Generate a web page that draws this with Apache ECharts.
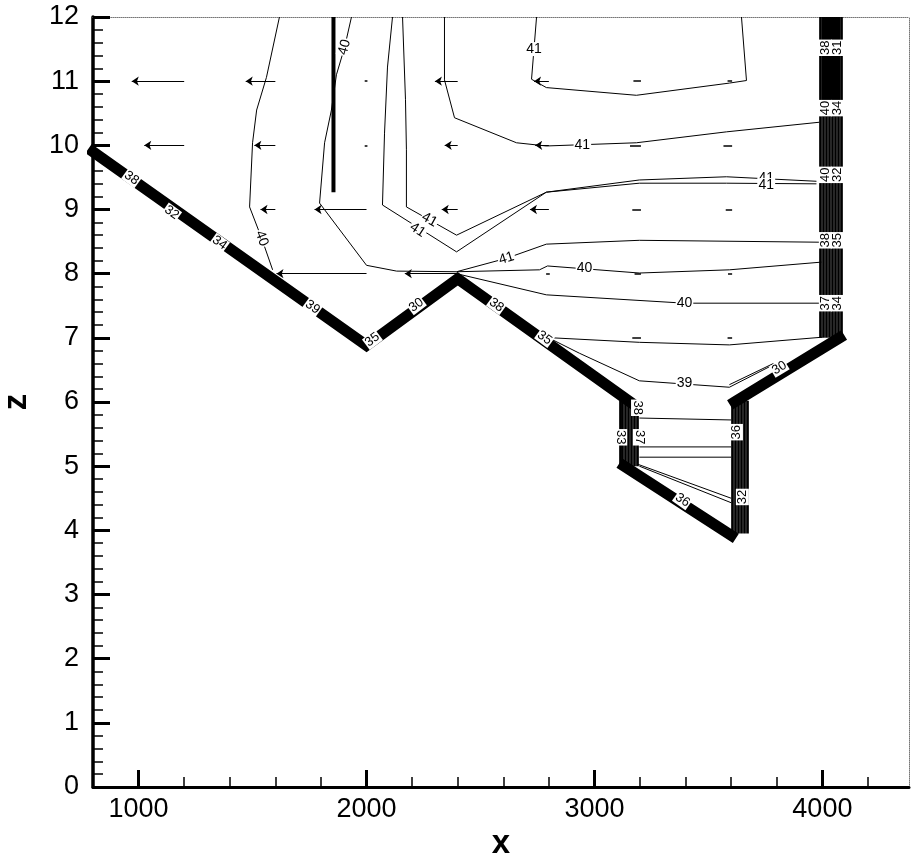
<!DOCTYPE html>
<html><head><meta charset="utf-8">
<script src="https://cdn.jsdelivr.net/npm/echarts@6/dist/echarts.min.js"></script>
<style>html,body{margin:0;padding:0;background:#fff}#c{width:915px;height:855px}</style>
</head><body><div id="c"></div>
<script>
// ---------- axes ----------
const X_MIN = 800, X_MAX = 4380, Z_MIN = 0, Z_MAX = 12;
const xMajorTicks = [1000, 2000, 3000, 4000];
const xMinorTicks = [1200, 1400, 1600, 1800, 2200, 2400, 2600, 2800, 3200, 3400, 3600, 3800, 4200];

// ---------- bottom boundary (thick lines) ----------
const boundaryLeft = [[800, 9.9], [2000, 6.88], [2400, 7.92], [3165, 5.98]];
const boundaryPitBottom = [[3130, 5.0], [3600, 3.92]];
const boundaryRightSlope = [[3615, 6.0], [4075, 7.0]];

// ---------- dense contour bands at walls (vertical lines) ----------
const pitLeftWallX = [3112, 3124, 3136, 3150, 3162, 3175, 3188];
const pitLeftWallZ = [5.0, 6.02];
const pitRightWallX = [3605, 3618, 3631, 3645, 3658, 3671];
const pitRightWallZ = [3.95, 6.02];
const eastWallX = [3991, 4004, 4017, 4030, 4043, 4057, 4070, 4083];
const eastWallZ = [7.0, 12];
const eastWallDenseZ = [10.45, 12];
const band1855 = [[1855, 12], [1855, 9.27]];

// ---------- contour lines ----------
const contour40West = [[1618, 12], [1561, 11.06], [1518, 10.55], [1500, 10.04], [1487, 9.04], [1539, 8.56], [1588, 8.06]];
const contour40Upper = [[1934, 12], [1904, 11.53], [1868, 11.10], [1846, 10.55], [1816, 10.04], [1794, 9.1], [2000, 8.13], [2132, 8.04], [2395, 8.03], [2759, 8.06], [2794, 8.12], [3197, 8.01], [3592, 8.06], [3996, 8.18]];
const contour41Top = [[2746, 12], [2724, 11.03], [2789, 10.90], [3184, 10.78], [3592, 10.97], [3667, 11.01], [3645, 12]];
const contour41Mid = [[2342, 12], [2342, 11.02], [2386, 10.43], [2658, 10.04], [2789, 9.99], [3184, 10.04], [3579, 10.21], [3987, 10.36]];
const contour41InnerV = [[2158, 12], [2171, 10.71], [2175, 9.93], [2175, 9.04], [2395, 8.60], [2789, 9.27], [3197, 9.46], [3579, 9.51], [3974, 9.44]];
const contour41OuterV = [[2114, 12], [2092, 11.22], [2079, 10.19], [2070, 9.07], [2395, 8.34], [2789, 9.27], [3197, 9.41], [3579, 9.41], [3974, 9.40]];
const contour41Lower = [[2395, 8.03], [2614, 8.24], [2789, 8.46], [3197, 8.52], [3996, 8.49]];
const contour40Lower = [[2395, 8.0], [2789, 7.67], [3395, 7.54], [3996, 7.54]];
const contour39Upper = [[2816, 7.0], [3197, 6.93], [3592, 6.89], [4000, 7.01]];
const contour39 = [[2816, 6.97], [2934, 6.76], [3197, 6.33], [3592, 6.23], [3768, 6.55]];
const contour39b = [[3592, 6.27], [3785, 6.6]];
const pitContourA = [[3197, 5.75], [3600, 5.72]];
const pitContourB = [[3197, 5.30], [3600, 5.30]];
const pitContourC = [[3197, 5.14], [3600, 5.14]];
const pitContourD = [[3197, 5.0], [3600, 4.43]];
const pitContourE = [[3190, 5.03], [3600, 4.50]];

// ---------- labels: [x, z, text, angle] ----------
const contourLabels = [
  [1540, 8.55, '40', -70], [1904, 11.53, '40', 75], [2956, 8.08, '40', 0], [3395, 7.54, '40', 0],
  [2735, 11.5, '41', 0], [2947, 10.0, '41', 0], [2276, 8.84, '41', -29], [2224, 8.68, '41', -33],
  [3754, 9.49, '41', 0], [3754, 9.38, '41', 0], [2614, 8.24, '41', 17], [3395, 6.30, '39', 0]
];
const boundaryLabels = [
  [969, 9.49, '38', -36], [1145, 8.95, '32', -36], [1355, 8.48, '34', -36], [1763, 7.48, '39', -36],
  [2026, 6.97, '35', 37], [2219, 7.51, '30', 37], [2570, 7.51, '38', -36], [2781, 7.0, '35', -36],
  [3386, 4.47, '36', -35], [3811, 6.53, '30', 31],
  [3189, 5.91, '38', -90], [3197, 5.45, '37', -90], [3115, 5.45, '33', -90],
  [3623, 5.53, '36', 90], [3649, 4.52, '32', 90],
  [4013, 11.52, '38', 90], [4066, 11.52, '31', 90],
  [4013, 10.58, '40', 90], [4066, 10.58, '34', 90],
  [4013, 9.54, '40', 90], [4066, 9.54, '32', 90],
  [4013, 8.52, '38', 90], [4066, 8.52, '35', 90],
  [4013, 7.54, '37', 90], [4066, 7.54, '34', 90]
];

// ---------- velocity vectors: [x, z, dx] ----------
const vectors = [
  [1200, 11, -230], [1600, 11, -130], [2000, 11, -4], [2400, 11, -100], [2800, 11, -65], [3200, 11, -25], [3600, 11, -12],
  [1200, 10, -175], [1600, 10, -92], [2000, 10, -4], [2400, 10, -57], [2800, 10, -60], [3200, 10, -40], [3600, 10, -30],
  [1600, 9, -65], [2000, 9, -228], [2400, 9, -70], [2800, 9, -83], [3200, 9, -30], [3600, 9, -20],
  [2000, 8, -395], [2400, 8, -232], [2800, 8, -8], [3200, 8, -20], [3600, 8, -10],
  [3200, 7, -30], [3600, 7, -12]
];

const FONT = 'Liberation Sans';
const contours = [contour40West, contour40Upper, contour41Top, contour41Mid, contour41InnerV, contour41OuterV,
  contour41Lower, contour40Lower, contour39Upper, contour39, contour39b, pitContourA, pitContourB, pitContourC, pitContourD, pitContourE];

const series = [];
contours.forEach(c => series.push({type: 'line', data: c, symbol: 'none', silent: true, z: 3,
  lineStyle: {color: '#000', width: 1}}));
[boundaryLeft, boundaryPitBottom, boundaryRightSlope].forEach(b => series.push({type: 'line', data: b, symbol: 'none', silent: true, z: 4,
  lineStyle: {color: '#000', width: 11, join: 'miter', cap: 'square'}}));
series.push({type: 'line', data: band1855, symbol: 'none', z: 4, lineStyle: {color: '#000', width: 4}});
function wall(xs, zr) { return xs.map(x => ({coords: [[x, zr[0]], [x, zr[1]]]})); }
series.push({type: 'lines', coordinateSystem: 'cartesian2d', z: 4, silent: true,
  data: [].concat(wall(pitLeftWallX, pitLeftWallZ), wall(pitRightWallX, pitRightWallZ), wall(eastWallX, eastWallZ)),
  lineStyle: {color: '#000', width: 2.7, opacity: 1}});
series.push({type: 'lines', coordinateSystem: 'cartesian2d', z: 4, silent: true,
  data: wall(eastWallX.slice(1, -1), eastWallDenseZ),
  lineStyle: {color: '#000', width: 3.4, opacity: 1}});
const longV = vectors.filter(v => Math.abs(v[2]) >= 50), shortV = vectors.filter(v => Math.abs(v[2]) < 50);
series.push({type: 'lines', coordinateSystem: 'cartesian2d', z: 5, silent: true,
  data: longV.map(v => ({coords: [[v[0], v[1]], [v[0] + v[2], v[1]]]})),
  symbol: ['none', 'arrow'], symbolSize: 7, lineStyle: {color: '#000', width: 1, opacity: 1}});
series.push({type: 'lines', coordinateSystem: 'cartesian2d', z: 5, silent: true,
  data: shortV.map(v => ({coords: [[v[0] + 4, v[1]], [v[0] + v[2] - 4, v[1]]]})),
  lineStyle: {color: '#000', width: 1.5, opacity: 1}});
function labelSeries(arr, size) {
  return {type: 'scatter', z: 10, silent: true, symbolSize: 1, itemStyle: {color: 'rgba(255,255,255,0)', opacity: 1},
    data: arr.map(l => ({value: [l[0], l[1]], label: {rotate: l[3], formatter: l[2]}})),
    label: {show: true, position: 'inside', color: '#000', opacity: 1, backgroundColor: '#fff', fontSize: size, fontFamily: FONT, padding: [0, 1], lineHeight: size}};
}
series.push(labelSeries(contourLabels, 14));
series.push(labelSeries(boundaryLabels, 13));

const axisCommon = {splitLine: {show: false}};
const plain = v => String(v);
const option = {
  animation: false,
  backgroundColor: '#fff',
  grid: {left: 93, right: 6, top: 17, bottom: 68, containLabel: false, outerBoundsMode: 'none'},
  xAxis: [
    Object.assign({type: 'value', min: X_MIN, max: X_MAX, position: 'bottom', offset: 0,
      axisLine: {onZero: false, lineStyle: {color: '#000', width: 3}},
      axisTick: {inside: true, length: 17, customValues: xMajorTicks, lineStyle: {color: '#000', width: 3}},
      axisLabel: {customValues: xMajorTicks, formatter: plain, fontSize: 27, color: '#000', margin: 9, fontFamily: FONT},
      name: 'x', nameLocation: 'middle', nameGap: 11,
      nameTextStyle: {fontSize: 33, fontWeight: 'bold', color: '#000', fontFamily: FONT}}, axisCommon),
    Object.assign({type: 'value', min: X_MIN, max: X_MAX, position: 'bottom', offset: 0,
      axisLine: {show: false, onZero: false},
      axisTick: {inside: true, length: 10, customValues: xMinorTicks, lineStyle: {color: '#000', width: 1.5}},
      axisLabel: {show: false}}, axisCommon),
    Object.assign({type: 'value', min: X_MIN, max: X_MAX, position: 'top', offset: 0,
      axisLine: {onZero: false, lineStyle: {color: '#777', width: 1, type: 'dotted'}},
      axisTick: {show: false}, axisLabel: {show: false}}, axisCommon)
  ],
  yAxis: [
    Object.assign({type: 'value', min: Z_MIN, max: Z_MAX, interval: 1, position: 'left', offset: 0,
      axisLine: {onZero: false, lineStyle: {color: '#000', width: 3.5}},
      axisTick: {inside: true, length: 17, lineStyle: {color: '#000', width: 3}},
      minorTick: {show: true, splitNumber: 5, length: 10, lineStyle: {color: '#000', width: 1.5}},
      axisLabel: {formatter: plain, fontSize: 27, color: '#000', margin: 14, fontFamily: FONT},
      name: 'z', nameLocation: 'middle', nameRotate: 90, nameGap: 60,
      nameTextStyle: {fontSize: 33, fontWeight: 'bold', color: '#000', fontFamily: FONT}}, axisCommon),
    Object.assign({type: 'value', min: Z_MIN, max: Z_MAX, position: 'right', offset: 0,
      axisLine: {onZero: false, lineStyle: {color: '#777', width: 1, type: 'dotted'}},
      axisTick: {show: false}, axisLabel: {show: false}}, axisCommon)
  ],
  series: series
};
const chart = echarts.init(document.getElementById('c'), null, {renderer: 'canvas'});
chart.setOption(option);
</script></body></html>
